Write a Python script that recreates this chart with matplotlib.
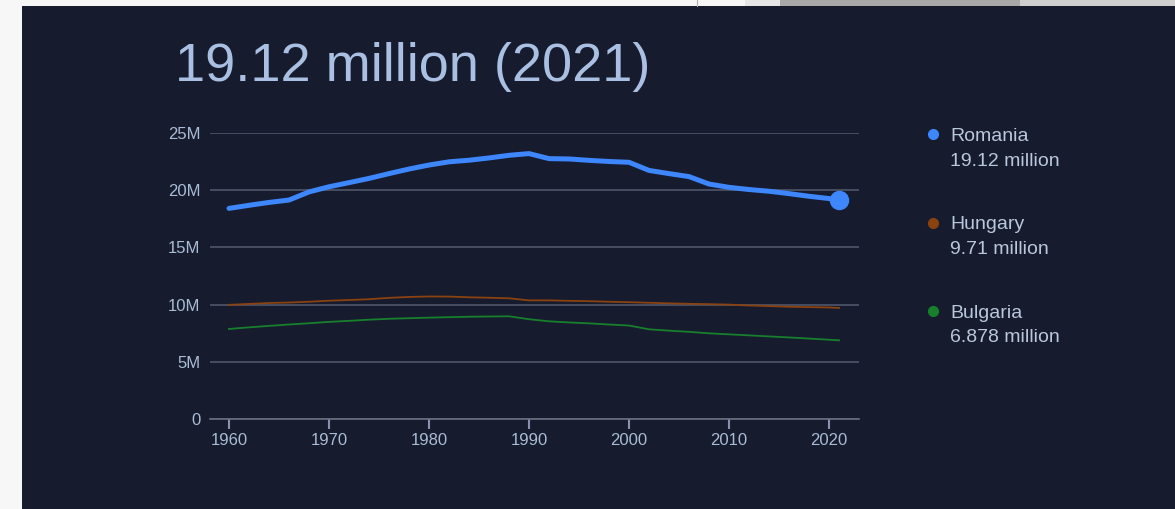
import matplotlib.pyplot as plt
from matplotlib.patches import Rectangle
from matplotlib.lines import Line2D
from matplotlib.ticker import FuncFormatter

# data (millions)
years = [1960, 1962, 1964, 1966, 1968, 1970, 1972, 1974, 1976, 1978, 1980,
         1982, 1984, 1986, 1988, 1990, 1992, 1994, 1996, 1998, 2000, 2002,
         2004, 2006, 2008, 2010, 2012, 2014, 2016, 2018, 2020, 2021]
romania = [18.41, 18.68, 18.93, 19.14, 19.85, 20.30, 20.66, 21.03, 21.45, 21.85, 22.20,
           22.48, 22.62, 22.82, 23.05, 23.20, 22.76, 22.73, 22.61, 22.51, 22.44, 21.73,
           21.45, 21.19, 20.54, 20.25, 20.06, 19.91, 19.70, 19.47, 19.27, 19.12]
hungary = [9.98, 10.06, 10.14, 10.18, 10.25, 10.34, 10.40, 10.47, 10.59, 10.67, 10.71,
           10.70, 10.64, 10.60, 10.55, 10.37, 10.37, 10.33, 10.30, 10.25, 10.21, 10.16,
           10.11, 10.07, 10.04, 10.00, 9.92, 9.87, 9.81, 9.78, 9.75, 9.71]
bulgaria = [7.87, 8.01, 8.14, 8.26, 8.37, 8.49, 8.58, 8.68, 8.76, 8.81, 8.86,
            8.90, 8.94, 8.96, 8.98, 8.72, 8.54, 8.44, 8.36, 8.26, 8.17, 7.84,
            7.72, 7.62, 7.49, 7.40, 7.31, 7.22, 7.13, 7.03, 6.93, 6.878]
countries = ["Romania", "Hungary", "Bulgaria"]
value_labels = ["19.12 million", "9.71 million", "6.878 million"]
title = "19.12 million (2021)"

bg = "#161b2e"
blue = "#3d86fb"
brown = "#8a420f"
green = "#17802c"
txt = "#a9bcd6"
grid_c = "#50566a"

plt.rcParams['font.family'] = ['Liberation Sans', 'DejaVu Sans']

fig = plt.figure(figsize=(11.75, 5.09), dpi=100)
fig.patch.set_facecolor("#f7f7f7")
W, H = 1175, 509

def fx(px):
    return px / W

def fy(py):
    return 1 - py / H

# screenshot frame: dark panel plus grey bits at top right
fig.add_artist(Rectangle((fx(22), 0), 1 - fx(22), fy(6), facecolor=bg, edgecolor="none",
                         transform=fig.transFigure, zorder=0))
fig.add_artist(Rectangle((fx(745), fy(6)), fx(35), 6 / H, facecolor="#e6e6e6",
                         edgecolor="none", transform=fig.transFigure, zorder=0))
fig.add_artist(Rectangle((fx(780), fy(6)), fx(240), 6 / H, facecolor="#a8a8a8",
                         edgecolor="none", transform=fig.transFigure, zorder=0))
fig.add_artist(Rectangle((fx(1020), fy(6)), fx(155), 6 / H, facecolor="#cfcfcf",
                         edgecolor="none", transform=fig.transFigure, zorder=0))
fig.add_artist(Line2D([fx(697), fx(697)], [fy(6), 1], color="#b0b0b0", lw=0.8,
                      transform=fig.transFigure))

ax = fig.add_axes([fx(210), fy(419), fx(859) - fx(210), (419 - 133) / H])
ax.set_facecolor(bg)
ax.patch.set_alpha(0)

ax.plot(years, bulgaria, color=green, lw=1.3, zorder=3)
ax.plot(years, hungary, color=brown, lw=1.3, zorder=3)
ax.plot(years, romania, color=blue, lw=3.6, zorder=4, solid_capstyle="round",
        solid_joinstyle="round")
ax.plot(years[-1], romania[-1], "o", color=blue, ms=13, zorder=5)

ax.set_xlim(1958.1, 2023)
ax.set_ylim(0, 25)
ax.set_xticks([1960, 1970, 1980, 1990, 2000, 2010, 2020])
ax.set_yticks([0, 5, 10, 15, 20, 25])
ax.yaxis.set_major_formatter(FuncFormatter(lambda v, p: "0" if v == 0 else f"{int(v)}M"))
ax.grid(axis="y", color=grid_c, lw=1.2)
ax.set_axisbelow(True)
for s in ["top", "right", "left"]:
    ax.spines[s].set_visible(False)
ax.spines["bottom"].set_color("#6a6f80")
ax.spines["bottom"].set_linewidth(1.2)
ax.tick_params(axis="x", colors="#8a90b0", length=7, width=1.5, pad=3, labelsize=12,
               labelcolor=txt)
ax.tick_params(axis="y", length=0, pad=7, labelsize=12, labelcolor=txt)

fig.text(fx(175), fy(81), title, fontsize=39, color="#a9c0e3", va="baseline")

# legend on the right
colors = [blue, brown, green]
rows = [134, 223, 311]
for name, val, c, r in zip(countries, value_labels, colors, rows):
    fig.add_artist(Line2D([fx(933)], [fy(r)], marker="o", ms=7, color=c, lw=0,
                          transform=fig.transFigure))
    fig.text(fx(950), fy(r + 2), name, fontsize=14, color="#b9c7dc", va="center")
    fig.text(fx(950), fy(r + 27), val, fontsize=14, color="#b9c7dc", va="center")

fig.savefig("out.png", dpi=100, facecolor=fig.get_facecolor())
